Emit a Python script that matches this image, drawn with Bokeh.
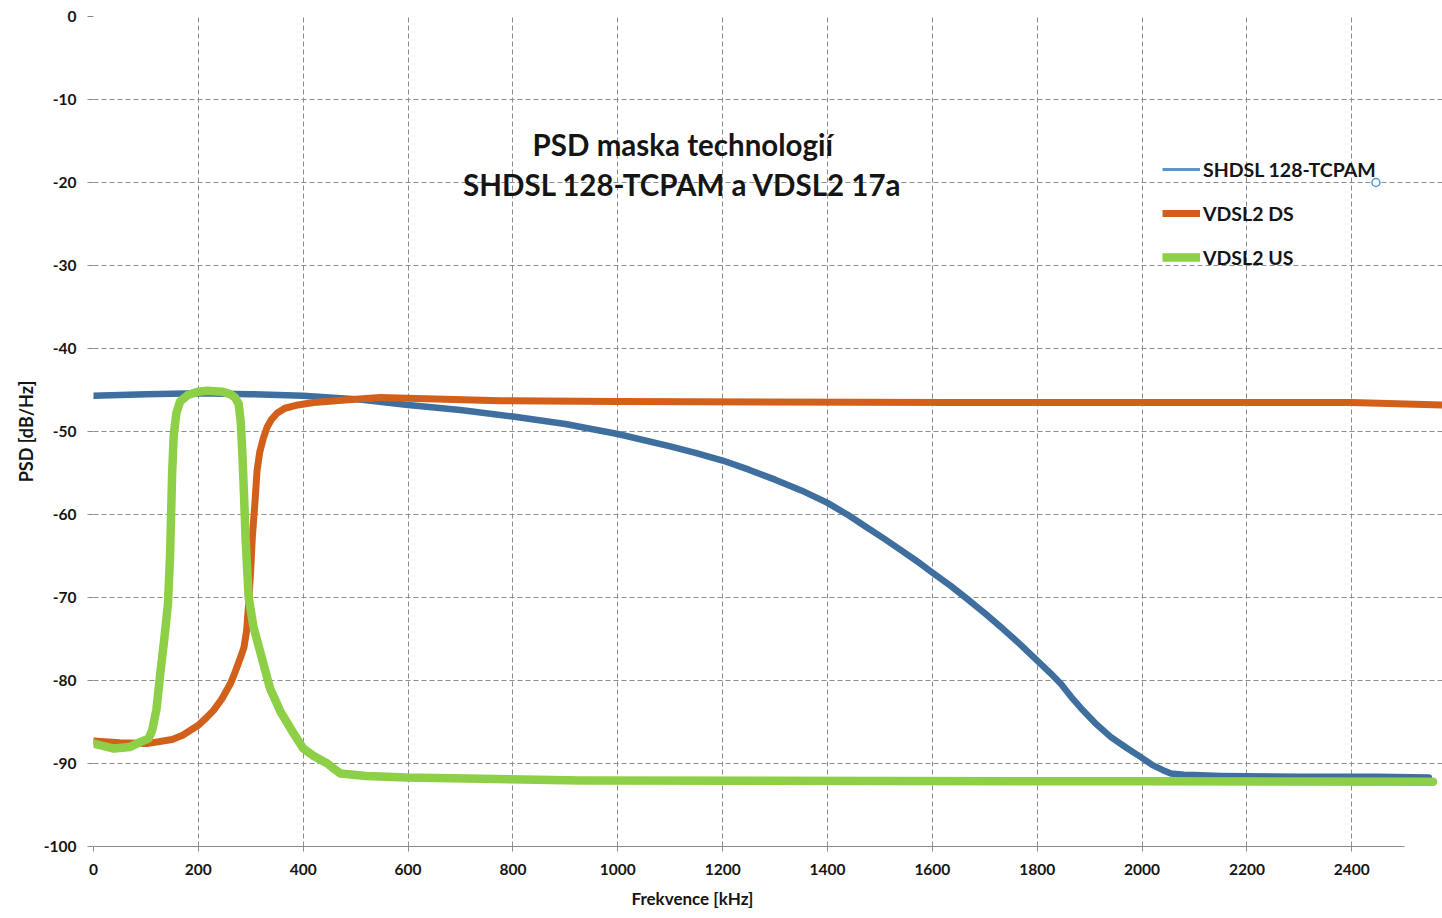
from bokeh.plotting import figure
from bokeh.models import Label, Legend, LegendItem, FixedTicker, Range1d, Title
from bokeh.embed import file_html
from bokeh.resources import INLINE

# ---------------- data ----------------
shdsl_f = [0, 100, 200, 300, 400, 500, 600, 700, 800, 900, 1000, 1100, 1150, 1200,
           1250, 1300, 1350, 1400, 1440, 1476, 1510, 1540, 1570, 1600, 1635, 1667,
           1700, 1735, 1770, 1800, 1825, 1845, 1865, 1883, 1910, 1940, 1970, 1997,
           2020, 2040, 2055, 2080, 2100, 2150, 2300, 2450, 2547]
shdsl_psd = [-45.7, -45.5, -45.4, -45.5, -45.7, -46.1, -46.8, -47.4, -48.2, -49.1,
             -50.3, -51.8, -52.6, -53.5, -54.6, -55.8, -57.1, -58.6, -60.1, -61.6,
             -63.0, -64.3, -65.6, -67.0, -68.6, -70.2, -71.9, -73.8, -75.8, -77.6,
             -79.1, -80.4, -82.0, -83.3, -85.1, -86.8, -88.1, -89.2, -90.2, -90.8,
             -91.2, -91.35, -91.4, -91.5, -91.6, -91.6, -91.7]

vdsl_ds_f = [0, 50, 102, 150, 170, 185, 200, 215, 229, 245, 261, 270, 280, 287, 292,
             296, 300, 303, 308, 312, 317, 324, 331, 340, 350, 365, 390, 420, 480,
             547, 776, 1000, 1635, 2000, 2400, 2575]
vdsl_ds_psd = [-87.3, -87.5, -87.6, -87.1, -86.6, -86.0, -85.4, -84.5, -83.6, -82.2,
               -80.4, -79.0, -77.3, -76.0, -74.0, -70.7, -66.5, -62.7, -58.5, -54.7,
               -52.5, -50.8, -49.5, -48.5, -47.8, -47.2, -46.8, -46.5, -46.2, -45.9,
               -46.3, -46.4, -46.5, -46.5, -46.5, -46.8]

vdsl_us_f = [0, 39, 70, 90, 105, 112, 120, 128, 135, 142, 146, 148, 150, 153, 158,
             165, 180, 200, 217, 245, 261, 270, 277, 281, 284, 287, 290, 293, 296,
             305, 319, 337, 357, 380, 400, 420, 446, 460, 471, 520, 598, 929, 1500,
             2000, 2555]
vdsl_us_psd = [-87.6, -88.2, -88.0, -87.4, -87.0, -86.0, -83.5, -78.8, -75.0, -70.8,
               -65.0, -60.0, -55.0, -50.5, -47.8, -46.4, -45.6, -45.2, -45.1, -45.2,
               -45.5, -45.9, -46.7, -49.0, -52.7, -57.5, -62.7, -66.5, -70.0, -73.5,
               -76.8, -81.0, -83.8, -86.2, -88.2, -89.1, -90.0, -90.7, -91.2, -91.5,
               -91.7, -92.05, -92.1, -92.15, -92.2]

marker_f = [2446]
marker_psd = [-20]

x_ticks = [0, 200, 400, 600, 800, 1000, 1200, 1400, 1600, 1800, 2000, 2200, 2400]
y_ticks = [-100, -90, -80, -70, -60, -50, -40, -30, -20, -10, 0]

series_names = ["SHDSL 128-TCPAM", "VDSL2 DS", "VDSL2 US"]
title_lines = ["PSD maska technologií", "SHDSL 128-TCPAM a VDSL2 17a"]
x_label = "Frekvence [kHz]"
y_label = "PSD [dB/Hz]"

# ---------------- styling ----------------
FONT = "Lato"
BLUE = "#3F6F9E"
ORANGE = "#D2601A"
GREEN = "#8DCF47"
GRID = "#8C8C8C"
TXT = "#151515"

p = figure(width=1442, height=918, output_backend="svg", toolbar_location=None,
           x_range=Range1d(0, 2573), y_range=Range1d(-100, 0),
           min_border_left=93, min_border_right=0, min_border_top=16,
           min_border_bottom=72)
p.outline_line_color = None
p.background_fill_color = "white"
p.border_fill_color = "white"

# grid
p.xgrid.ticker = FixedTicker(ticks=x_ticks)
p.ygrid.ticker = FixedTicker(ticks=y_ticks)
for g in (p.xgrid, p.ygrid):
    g.grid_line_color = GRID
    g.grid_line_dash = "5 3"
    g.grid_line_width = 1
p.ygrid.bounds = (0, 2500)

# axes
p.xaxis.ticker = FixedTicker(ticks=x_ticks)
p.yaxis.ticker = FixedTicker(ticks=y_ticks)
p.yaxis.major_label_overrides = {t: str(t) for t in y_ticks}
p.xaxis.bounds = (0, 2500)
p.xaxis.axis_line_color = GRID
p.xaxis.axis_line_width = 1
p.yaxis.axis_line_color = None
for ax in (p.xaxis, p.yaxis):
    ax.major_tick_line_color = GRID
    ax.minor_tick_line_color = None
    ax.major_tick_in = 0
    ax.major_label_text_font = FONT
    ax.major_label_text_font_style = "bold"
    ax.major_label_text_font_size = "15.5px"
    ax.major_label_text_color = TXT
p.xaxis.major_tick_out = 5
p.xaxis.major_label_standoff = 12
p.yaxis.major_tick_out = 6
p.yaxis.major_label_standoff = 11

p.yaxis.axis_label = y_label
p.yaxis.axis_label_text_font = FONT
p.yaxis.axis_label_text_font_style = "bold"
p.yaxis.axis_label_text_font_size = "18px"
p.yaxis.axis_label_text_color = TXT
p.yaxis.axis_label_standoff = 4

# x-axis title (placed as a below-title so it can sit left of centre)
p.add_layout(Title(text=x_label, align="left", offset=538, text_font=FONT,
                   text_font_style="bold", text_font_size="17px",
                   text_color=TXT, standoff=16), "below")

# series
p.line(shdsl_f, shdsl_psd, line_color=BLUE, line_width=6.5, line_join="round", line_cap="round")
p.line(vdsl_ds_f, vdsl_ds_psd, line_color=ORANGE, line_width=7, line_join="round", line_cap="round")
p.line(vdsl_us_f, vdsl_us_psd, line_color=GREEN, line_width=8.5, line_join="round", line_cap="round")
p.scatter(marker_f, marker_psd, marker="circle", size=8, fill_color="white",
          line_color="#4A97DD", line_width=1.5)

# legend (legend-only renderers with a single NaN point, so glyph widths match)
nan = float("nan")
lr1 = p.line([nan], [nan], line_color="#5B93D3", line_width=3)
lr2 = p.line([nan], [nan], line_color=ORANGE, line_width=7)
lr3 = p.line([nan], [nan], line_color=GREEN, line_width=8.5)
legend = Legend(items=[LegendItem(label=series_names[0], renderers=[lr1]),
                       LegendItem(label=series_names[1], renderers=[lr2]),
                       LegendItem(label=series_names[2], renderers=[lr3])],
                location=(1069, 577), orientation="vertical",
                border_line_color=None, background_fill_alpha=0,
                padding=0, margin=0, spacing=20, glyph_width=38, glyph_height=24,
                label_height=24, label_standoff=3,
                label_text_font=FONT, label_text_font_style="bold",
                label_text_font_size="19.5px", label_text_color=TXT)
p.add_layout(legend)

# title lines inside the plot
p.add_layout(Label(x=1124, y=-15.4, text=title_lines[0], text_align="center",
                   text_baseline="middle", text_font=FONT, text_font_style="bold",
                   text_font_size="29.5px", text_color=TXT))
p.add_layout(Label(x=1124, y=-20.3, text=title_lines[1], text_align="center",
                   text_baseline="middle", text_font=FONT, text_font_style="bold",
                   text_font_size="29.5px", text_color=TXT))

open("out.html", "w").write(file_html(p, INLINE))
